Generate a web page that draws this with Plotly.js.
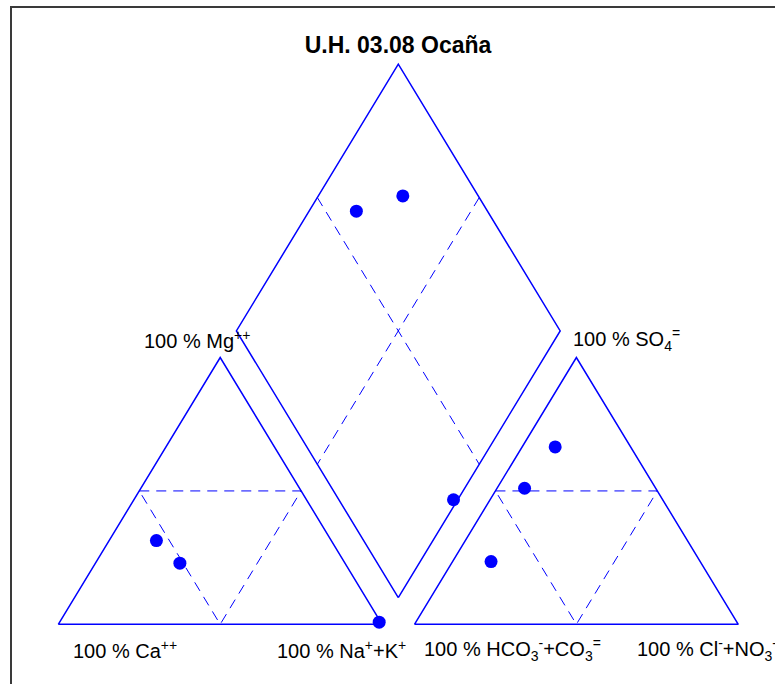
<!DOCTYPE html>
<html><head><meta charset="utf-8">
<script src="https://cdn.plot.ly/plotly-3.0.1.min.js"></script>
<style>html,body{margin:0;padding:0;background:#fff}</style>
</head><body><div id="chart" style="width:775px;height:684px"></div>
<script>
// Sample compositions (% meq/L)
const samples = ['M1', 'M2', 'M3'];
const caPct   = [54.0, 51.0, 0.5];
const mgPct   = [31.4, 22.9, 0.8];
const naKPct  = [14.6, 26.1, 98.7];
const hco3Pct = [40.5, 23.3, 64.6];
const so4Pct  = [51.0, 66.5, 23.5];
const clPct   = [8.5, 10.2, 11.9];

// Diagram labels
const titleText = '<b>U.H. 03.08 Ocaña</b>';
const cornerLabels = ['100 % Mg<sup>++</sup>', '100 % SO<sub>4</sub><sup>=</sup>',
  '100 % Ca<sup>++</sup>', '100 % Na<sup>+</sup>+K<sup>+</sup>',
  '100 % HCO<sub>3</sub><sup>-</sup>+CO<sub>3</sub><sup>=</sup>', '100 % Cl<sup>-</sup>+NO<sub>3</sub><sup>-</sup>'];

// Geometry (triangle side = 1, gap between triangles)
const g = 0.1;
const h = Math.sqrt(3) / 2;
const blue = '#0000FF';

// ---- frame geometry ----
const leftTri = {x: [0, 1, 0.5, 0], y: [0, 0, h, 0]};
const rightTri = {x: [1 + g, 2 + g, 1.5 + g, 1 + g], y: [0, 0, h, 0]};
const dB = [1 + g / 2, g * h], dL = [0.5 + g / 2, h + g * h], dR = [1.5 + g / 2, h + g * h], dT = [1 + g / 2, 2 * h + g * h];
const diamond = {x: [dB[0], dR[0], dT[0], dL[0], dB[0]], y: [dB[1], dR[1], dT[1], dL[1], dB[1]]};
const mid = (a, b) => [(a[0] + b[0]) / 2, (a[1] + b[1]) / 2];
const mTL = mid(dT, dL), mBR = mid(dB, dR), mTR = mid(dT, dR), mBL = mid(dB, dL);

const dashStyle = '10px,7px';
const traces = [];
function solid(o) { traces.push({x: o.x, y: o.y, mode: 'lines', type: 'scatter', hoverinfo: 'skip', line: {color: blue, width: 1.5}}); }
function dashed(xs, ys) { traces.push({x: xs, y: ys, mode: 'lines', type: 'scatter', hoverinfo: 'skip', line: {color: blue, width: 1, dash: dashStyle}}); }
solid(leftTri); solid(rightTri); solid(diamond);
dashed([0.25, 0.75, 0.5, 0.25], [h / 2, h / 2, 0, h / 2]);
dashed([1.35 + 0, 1.85, 1.6, 1.35], [h / 2, h / 2, 0, h / 2]);
dashed([mTL[0], mBR[0]], [mTL[1], mBR[1]]);
dashed([mTR[0], mBL[0]], [mTR[1], mBL[1]]);

// ---- data points ----
const cx = [], cy = [], ax = [], ay = [], px = [], py = [];
for (let i = 0; i < samples.length; i++) {
  const tc = caPct[i] + mgPct[i] + naKPct[i];
  const ta = hco3Pct[i] + so4Pct[i] + clPct[i];
  const na = naKPct[i] / tc, mg = mgPct[i] / tc;
  const so4 = so4Pct[i] / ta, cl = clPct[i] / ta, hco3 = hco3Pct[i] / ta;
  cx.push(na + mg / 2); cy.push(mg * h);
  ax.push(1 + g + cl + so4 / 2); ay.push(so4 * h);
  px.push((na + 2 + g - hco3) / 2); py.push(h * (2 + g - hco3 - na));
}
const mk = {color: blue, size: 13};
traces.push({x: cx, y: cy, text: samples, mode: 'markers', type: 'scatter', marker: mk, cliponaxis: false});
traces.push({x: ax, y: ay, text: samples, mode: 'markers', type: 'scatter', marker: mk, cliponaxis: false});
traces.push({x: px, y: py, text: samples, mode: 'markers', type: 'scatter', marker: mk, cliponaxis: false});

const W = 775, H = 684;
const font = {family: '"Liberation Sans", Arial, sans-serif', size: 20, color: '#000'};
const labelPos = [[142, 340], [571, 340], [71, 649], [275, 649], [422, 649], [635, 649]];
const annotations = cornerLabels.map((t, i) => ({
  text: t, xref: 'paper', yref: 'paper', x: labelPos[i][0] / W, y: 1 - labelPos[i][1] / H,
  xanchor: 'left', yanchor: 'middle', showarrow: false, font: font
}));

const layout = {
  width: W, height: H,
  margin: {l: 0, r: 0, t: 0, b: 0},
  paper_bgcolor: '#fff', plot_bgcolor: '#fff',
  showlegend: false,
  title: {text: titleText, x: 398 / W, xanchor: 'center', y: 1 - 45 / H, yanchor: 'middle',
    font: {family: '"Liberation Sans", Arial, sans-serif', size: 23, color: '#000'}},
  xaxis: {range: [-0.18005, 2.21341], visible: false, fixedrange: true},
  yaxis: {range: [-0.19383, 2.02695], visible: false, fixedrange: true},
  annotations: annotations,
  shapes: [{type: 'rect', xref: 'paper', yref: 'paper', x0: 11 / W, x1: 1.02, y0: -0.02, y1: 1 - 7 / H,
    line: {color: '#3a3a3a', width: 2}}]
};
Plotly.newPlot('chart', traces, layout, {displayModeBar: false, staticPlot: true});
</script></body></html>
